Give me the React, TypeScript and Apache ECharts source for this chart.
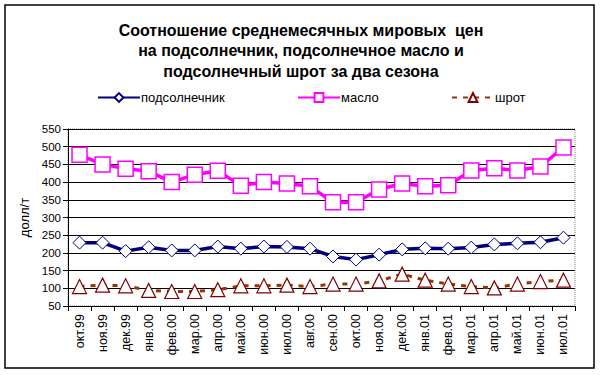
import React, { useEffect, useRef } from "react";
import * as echarts from "echarts";

const months = [
  "окт.99", "ноя.99", "дек.99", "янв.00", "фев.00", "мар.00", "апр.00", "май.00",
  "июн.00", "июл.00", "авг.00", "сен.00", "окт.00", "ноя.00", "дек.00", "янв.01",
  "фев.01", "мар.01", "апр.01", "май.01", "июн.01", "июл.01",
];
const sunflower = [229, 229, 205, 216, 207, 207, 218, 212, 218, 217, 212, 190, 181, 195, 210, 213, 212, 215, 224, 227, 230, 243];
const oil = [477, 450, 438, 431, 400, 421, 432, 390, 400, 396, 388, 343, 343, 379, 396, 388, 391, 433, 439, 433, 444, 498];
const meal = [105, 109, 107, 94, 91, 91, 96, 107, 107, 109, 105, 112, 112, 121, 140, 123, 112, 105, 101, 112, 119, 123];
const yTicks = { min: 50, max: 550, interval: 50 };

const FONT = "'Liberation Sans', Arial, sans-serif";

export default function App() {
  const ref = useRef<HTMLDivElement>(null);
  useEffect(() => {
    if (!ref.current) return;
    const chart = echarts.init(ref.current, undefined, { renderer: "svg" });
    chart.setOption({
      animation: false,
      backgroundColor: "#fff",
      textStyle: { fontFamily: FONT },
      title: {
        text: "Соотношение среднемесячных мировых  цен\nна подсолнечник, подсолнечное масло и\nподсолнечный шрот за два сезона",
        left: "center",
        top: 15,
        textStyle: { fontSize: 16, fontWeight: "bold", color: "#000", lineHeight: 20.5, fontFamily: FONT },
      },
      legend: [
        { data: ["подсолнечник"], left: 92, top: 86 },
        { data: ["масло"], left: 292, top: 86 },
        { data: ["шрот"], left: 446, top: 86 },
      ].map((l) => ({
        ...l,
        itemWidth: 42,
        itemHeight: 11,
        itemGap: 2,
        textStyle: { fontSize: 13, color: "#000", fontFamily: FONT, padding: [0, 0, 0, -4] },
      })),
      graphic: [
        {
          type: "rect",
          shape: { x: 5, y: 5, width: 589, height: 363 },
          style: { fill: "none", stroke: "#000", lineWidth: 1.5 },
          silent: true,
        },
      ],
      grid: { left: 68, right: 27, top: 129, bottom: 69, show: true, borderColor: "#808080", borderWidth: 1, borderType: "dotted" },
      xAxis: {
        type: "category",
        data: months,
        boundaryGap: true,
        axisLine: { lineStyle: { color: "#000", width: 1 } },
        axisTick: { show: true, length: 5, lineStyle: { color: "#000" } },
        axisLabel: { rotate: 90, fontSize: 12.5, color: "#000", margin: 8, fontFamily: FONT },
        splitLine: { show: false },
      },
      yAxis: {
        type: "value",
        ...yTicks,
        name: "долл/т",
        nameLocation: "middle",
        nameGap: 33,
        nameTextStyle: { fontSize: 13, color: "#000", fontFamily: FONT },
        axisLine: { show: true, lineStyle: { color: "#000", width: 1 } },
        axisTick: { show: true, length: 5, lineStyle: { color: "#000" } },
        axisLabel: { fontSize: 11.5, color: "#000", margin: 7, fontFamily: FONT },
        splitLine: { show: true, lineStyle: { color: "#000", width: 1 } },
      },
      series: [
        {
          name: "подсолнечник",
          type: "line",
          data: sunflower,
          symbol: "diamond",
          symbolSize: 13,
          lineStyle: { color: "#000080", width: 3.5 },
          itemStyle: { color: "#fff", borderColor: "#000080", borderWidth: 1 },
          z: 3,
        },
        {
          name: "масло",
          type: "line",
          data: oil,
          symbol: "rect",
          symbolSize: 15,
          lineStyle: { color: "#ff00ff", width: 3.5 },
          itemStyle: { color: "#fff", borderColor: "#ff00ff", borderWidth: 1.5 },
          z: 4,
        },
        {
          name: "шрот",
          type: "line",
          data: meal,
          symbol: "triangle",
          symbolSize: 14,
          lineStyle: { color: "#993300", width: 3, type: [5, 6] },
          itemStyle: { color: "#fff", borderColor: "#800000", borderWidth: 1.2 },
          z: 2,
        },
      ],
    });
    return () => chart.dispose();
  }, []);
  return <div ref={ref} style={{ position: "fixed", left: 0, top: 0, width: 602, height: 375 }} />;
}
